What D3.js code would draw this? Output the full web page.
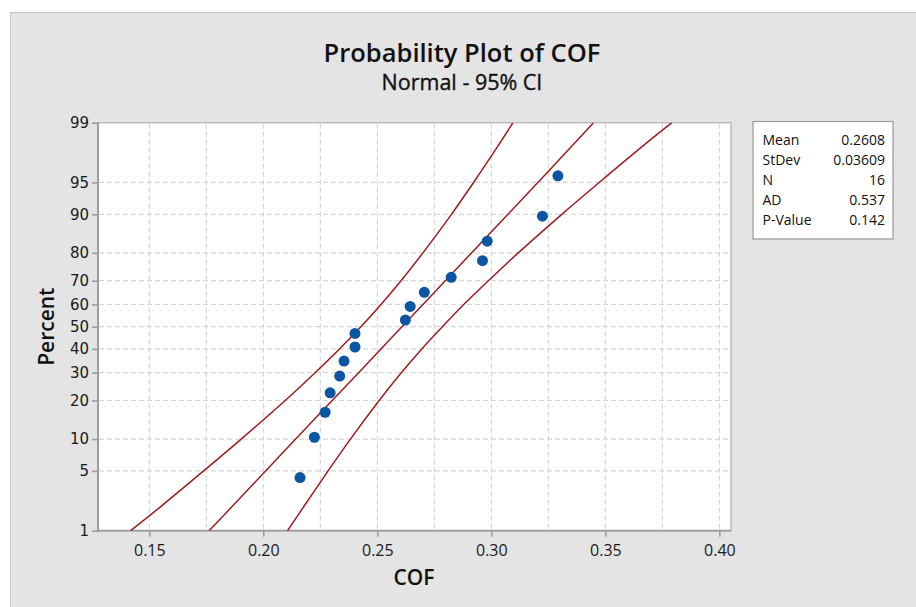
<!DOCTYPE html>
<html><head><meta charset="utf-8">
<script src="https://cdn.jsdelivr.net/npm/d3@7"></script>
<style>
html,body{margin:0;padding:0;background:#fff;}
svg{display:block;}
</style></head>
<body>
<svg id="chart" width="916" height="607"></svg>
<script>
// ---------- data ----------
const cofValues = [0.2161, 0.2224, 0.2271, 0.2293, 0.2335, 0.2354, 0.2402, 0.2402,
                   0.2623, 0.2644, 0.2706, 0.2824, 0.2961, 0.2982, 0.3224, 0.3292];
const cofPercents = [4.27, 10.37, 16.46, 22.56, 28.66, 34.76, 40.85, 46.95,
                     53.05, 59.15, 65.24, 71.34, 77.44, 83.54, 89.63, 95.73];
// fitted line and 95% CI band read at these percent levels
const bandPercents = [1, 2, 5, 10, 20, 30, 40, 50, 60, 70, 80, 90, 95, 98, 99];
const fitLine  = [0.1762, 0.1862, 0.2010, 0.2142, 0.2302, 0.2418, 0.2516, 0.2608, 0.2700, 0.2798, 0.2913, 0.3073, 0.3204, 0.3351, 0.3448];
const ciLower  = [0.1418, 0.1549, 0.1738, 0.1903, 0.2096, 0.2227, 0.2334, 0.2428, 0.2516, 0.2604, 0.2700, 0.2825, 0.2922, 0.3027, 0.3095];
const ciUpper  = [0.2106, 0.2177, 0.2284, 0.2382, 0.2508, 0.2605, 0.2695, 0.2785, 0.2879, 0.2987, 0.3118, 0.3309, 0.3473, 0.3661, 0.3792];
const xTicks = [0.15, 0.20, 0.25, 0.30, 0.35, 0.40];
const xGrid  = [0.15, 0.175, 0.20, 0.225, 0.25, 0.275, 0.30, 0.325, 0.35, 0.375, 0.40];
const yTicks = [1, 5, 10, 20, 30, 40, 50, 60, 70, 80, 90, 95, 99];
const statLabels = ["Mean", "StDev", "N", "AD", "P-Value"];
const statValues = ["0.2608", "0.03609", "16", "0.537", "0.142"];
const titleText = "Probability Plot of COF";
const subtitleText = "Normal - 95% CI";
const xLabel = "COF";
const yLabel = "Percent";

// ---------- helpers ----------
function probit(p) { // inverse standard normal CDF (Acklam)
  const a=[-3.969683028665376e+01,2.209460984245205e+02,-2.759285104469687e+02,1.383577518672690e+02,-3.066479806614716e+01,2.506628277459239e+00];
  const b=[-5.447609879822406e+01,1.615858368580409e+02,-1.556989798598866e+02,6.680131188771972e+01,-1.328068155288572e+01];
  const c=[-7.784894002430293e-03,-3.223964580411365e-01,-2.400758277161838e+00,-2.549732539343734e+00,4.374664141464968e+00,2.938163982698783e+00];
  const d=[7.784695709041462e-03,3.224671290700398e-01,2.445134137142996e+00,3.754408661907416e+00];
  const pl=0.02425, ph=1-pl; let q,r;
  if (p<pl){q=Math.sqrt(-2*Math.log(p));return (((((c[0]*q+c[1])*q+c[2])*q+c[3])*q+c[4])*q+c[5])/((((d[0]*q+d[1])*q+d[2])*q+d[3])*q+1);}
  if (p<=ph){q=p-0.5;r=q*q;return (((((a[0]*r+a[1])*r+a[2])*r+a[3])*r+a[4])*r+a[5])*q/(((((b[0]*r+b[1])*r+b[2])*r+b[3])*r+b[4])*r+1);}
  q=Math.sqrt(-2*Math.log(1-p));return -(((((c[0]*q+c[1])*q+c[2])*q+c[3])*q+c[4])*q+c[5])/((((d[0]*q+d[1])*q+d[2])*q+d[3])*q+1);
}

// ---------- layout ----------
const svg = d3.select("#chart");
const L = 98, R = 731, T = 122.7, B = 530.7;
const x = d3.scaleLinear().domain([0.1275, 0.4051]).range([L, R]);
const yz = d3.scaleLinear().domain([probit(0.01), probit(0.99)]).range([B, T]);
const y = p => yz(probit(p / 100));

const sans = "'Open Sans', 'Noto Sans', sans-serif";

// background frame
svg.append("rect").attr("x", 10.5).attr("y", 12.5).attr("width", 920).attr("height", 620)
  .attr("fill", "#e4e4e4").attr("stroke", "#c6c6c6").attr("stroke-width", 1);

// titles
svg.append("text").attr("x", 462).attr("y", 62).attr("text-anchor", "middle")
  .attr("font-family", sans).attr("font-size", 25.5).attr("font-weight", 600).attr("fill", "#111")
  .text(titleText);
svg.append("text").attr("x", 462).attr("y", 90).attr("text-anchor", "middle")
  .attr("font-family", sans).attr("font-size", 21.5).attr("font-weight", 400).attr("fill", "#111")
  .attr("stroke", "#111").attr("stroke-width", 0.35)
  .text(subtitleText);

// plot area
svg.append("rect").attr("x", L).attr("y", T).attr("width", R - L).attr("height", B - T)
  .attr("fill", "#fff").attr("stroke", "#b0b0b0").attr("stroke-width", 1.2);

svg.append("defs").append("clipPath").attr("id", "clip")
  .append("rect").attr("x", L).attr("y", T).attr("width", R - L).attr("height", B - T);

// grid
const grid = svg.append("g").attr("stroke", "#d6d6d6").attr("stroke-width", 1.2).attr("stroke-dasharray", "5,3");
grid.selectAll("line.v").data(xGrid).join("line").attr("class", "v")
  .attr("x1", d => x(d)).attr("x2", d => x(d)).attr("y1", T + 1).attr("y2", B - 1);
grid.selectAll("line.h").data(yTicks.filter(d => d > 1 && d < 99)).join("line").attr("class", "h")
  .attr("x1", L + 1).attr("x2", R - 1).attr("y1", d => y(d)).attr("y2", d => y(d));

// axes
const xAxis = d3.axisBottom(x).tickValues(xTicks).tickFormat(d3.format(".2f")).tickSize(6).tickSizeOuter(0);
const gx = svg.append("g").attr("transform", `translate(0,${B})`).call(xAxis);
gx.select(".domain").remove();
gx.selectAll(".tick line").attr("stroke", "#9a9a9a").attr("stroke-width", 1.5);
gx.selectAll(".tick text").attr("font-family", sans).attr("font-size", 16).attr("fill", "#1a1a1a").attr("dy", "1.05em");

const yAxis = d3.axisLeft(yz).tickValues(yTicks.map(p => probit(p / 100)))
  .tickFormat((d, i) => yTicks[i]).tickSize(6).tickSizeOuter(0);
const gy = svg.append("g").attr("transform", `translate(${L},0)`).call(yAxis);
gy.select(".domain").remove();
gy.selectAll(".tick line").attr("stroke", "#9a9a9a").attr("stroke-width", 1.5);
gy.selectAll(".tick text").attr("font-family", "'DejaVu Sans', sans-serif").attr("font-size", 15)
  .attr("fill", "#1a1a1a").attr("x", -9);

// axis lines
svg.append("line").attr("x1", L).attr("x2", L).attr("y1", T).attr("y2", B + 0.7).attr("stroke", "#9a9a9a").attr("stroke-width", 1.8);
svg.append("line").attr("x1", L).attr("x2", R).attr("y1", B).attr("y2", B).attr("stroke", "#9a9a9a").attr("stroke-width", 1.8);

// axis labels
svg.append("text").attr("x", 414).attr("y", 585).attr("text-anchor", "middle")
  .attr("font-family", sans).attr("font-size", 21).attr("font-weight", 600).attr("fill", "#111").text(xLabel);
svg.append("text").attr("transform", `translate(54,${(T + B) / 2}) rotate(-90)`).attr("text-anchor", "middle")
  .attr("font-family", sans).attr("font-size", 21).attr("font-weight", 600).attr("fill", "#111").text(yLabel);

// lines
const lineGen = arr => d3.line().x((d, i) => x(arr[i])).y(d => y(d)).curve(d3.curveCatmullRom)(bandPercents);
const lg = svg.append("g").attr("clip-path", "url(#clip)").attr("fill", "none")
  .attr("stroke", "#9e1b1e").attr("stroke-width", 1.5);
[ciLower, fitLine, ciUpper].forEach(arr => lg.append("path").attr("d", lineGen(arr)));

// points
svg.append("g").selectAll("circle").data(cofValues).join("circle")
  .attr("cx", d => x(d)).attr("cy", (d, i) => y(cofPercents[i])).attr("r", 5.5)
  .attr("fill", "#0b55a3");

// stats box
const bx = 753, by = 121.5;
svg.append("rect").attr("x", bx).attr("y", by).attr("width", 140).attr("height", 117.5)
  .attr("fill", "#fff").attr("stroke", "#9a9a9a").attr("stroke-width", 1.2);
const sg = svg.append("g").attr("font-family", sans).attr("font-size", 14).attr("fill", "#111");
sg.selectAll("text.l").data(statLabels).join("text").attr("class", "l")
  .attr("x", bx + 9.5).attr("y", (d, i) => 144.5 + i * 20.2).text(d => d);
sg.selectAll("text.v").data(statValues).join("text").attr("class", "v")
  .attr("x", bx + 132).attr("y", (d, i) => 144.5 + i * 20.2).attr("text-anchor", "end").text(d => d);
</script>
</body></html>
